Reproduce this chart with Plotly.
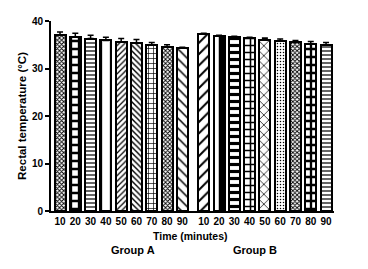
import plotly.graph_objects as go

# Rectal temperature over time, two groups, mean with upper SEM bar
times = ["10", "20", "30", "40", "50", "60", "70", "80", "90"]
group_a_mean = [37.0, 36.7, 36.3, 35.9, 35.6, 35.4, 34.9, 34.6, 34.3]
group_a_err = [0.7, 0.7, 0.7, 0.7, 0.7, 0.7, 0.6, 0.4, 0.2]
group_b_mean = [37.2, 36.9, 36.6, 36.4, 36.1, 35.8, 35.5, 35.2, 34.9]
group_b_err = [0.2, 0.1, 0.2, 0.2, 0.3, 0.4, 0.4, 0.5, 0.6]
group_names = ["Group A", "Group B"]
y_ticks = [0, 10, 20, 30, 40]

# fill patterns for each bar (shape, cell size, solidity)
a_shapes = ["x", "+", "-", "|", "/", "\\", "+", "x", "\\"]
a_sizes = [3, 8, 4, 11, 4, 4, 5, 3, 7]
a_solid = [0.5, 0.5, 0.3, 0.3, 0.3, 0.35, 0.25, 0.5, 0.22]
b_shapes = ["/", "|", "-", "+", "x", ".", "x", "+", "-"]
b_sizes = [8, 11, 7, 7, 7, 3, 3, 8, 4]
b_solid = [0.25, 0.5, 0.45, 0.4, 0.2, 0.2, 0.5, 0.5, 0.3]

GAP = 1.4
xa = list(range(len(times)))
xb = [len(times) - 1 + GAP + i for i in range(len(times))]

font_family = "Liberation Sans, Arial, sans-serif"

fig = go.Figure()
for xs, mean, err, shapes, sizes, solid in [
    (xa, group_a_mean, group_a_err, a_shapes, a_sizes, a_solid),
    (xb, group_b_mean, group_b_err, b_shapes, b_sizes, b_solid),
]:
    fig.add_trace(go.Bar(
        x=xs, y=mean, width=0.72,
        marker=dict(
            color="white",
            line=dict(color="black", width=2),
            pattern=dict(shape=shapes, size=sizes, solidity=solid,
                         fgcolor="black", bgcolor="white", fillmode="replace"),
        ),
        error_y=dict(type="data", symmetric=False, array=err,
                     arrayminus=[0] * len(err), color="black",
                     thickness=1.5, width=3),
        showlegend=False,
    ))

fig.update_layout(
    width=368, height=269,
    margin=dict(l=51, r=34, t=21, b=58),
    paper_bgcolor="white", plot_bgcolor="white",
    font=dict(family=font_family, color="black", size=10, weight="bold"),
    bargap=0,
    xaxis=dict(
        range=[-0.59, xb[-1] + 0.52],
        tickvals=xa + xb, ticktext=times + times,
        showline=True, linecolor="black", linewidth=2,
        ticks="", showgrid=False, zeroline=False,
        tickfont=dict(size=10, family=font_family, weight="bold"),
    ),
    yaxis=dict(
        range=[0, 40], tickvals=y_ticks,
        showline=True, linecolor="black", linewidth=2,
        ticks="outside", ticklen=4, tickwidth=2, tickcolor="black",
        showgrid=False, zeroline=False,
        tickfont=dict(size=10, family=font_family, weight="bold"),
        title=dict(text="Rectal temperature (°C)", standoff=3,
                   font=dict(size=11.5, family=font_family, weight="bold")),
    ),
)

fig.add_annotation(x=8.5, y=0, xref="x", yref="paper", yshift=-25,
                   yanchor="middle", text="Time (minutes)", showarrow=False,
                   font=dict(size=10.5, family=font_family, weight="bold"))
for label, xc in zip(group_names, [4.77, 12.75]):
    fig.add_annotation(x=xc, y=0, xref="x", yref="paper", yshift=-39,
                       yanchor="middle", text=label, showarrow=False,
                       font=dict(size=11, family=font_family, weight="bold"))

fig.write_html("out.html")
